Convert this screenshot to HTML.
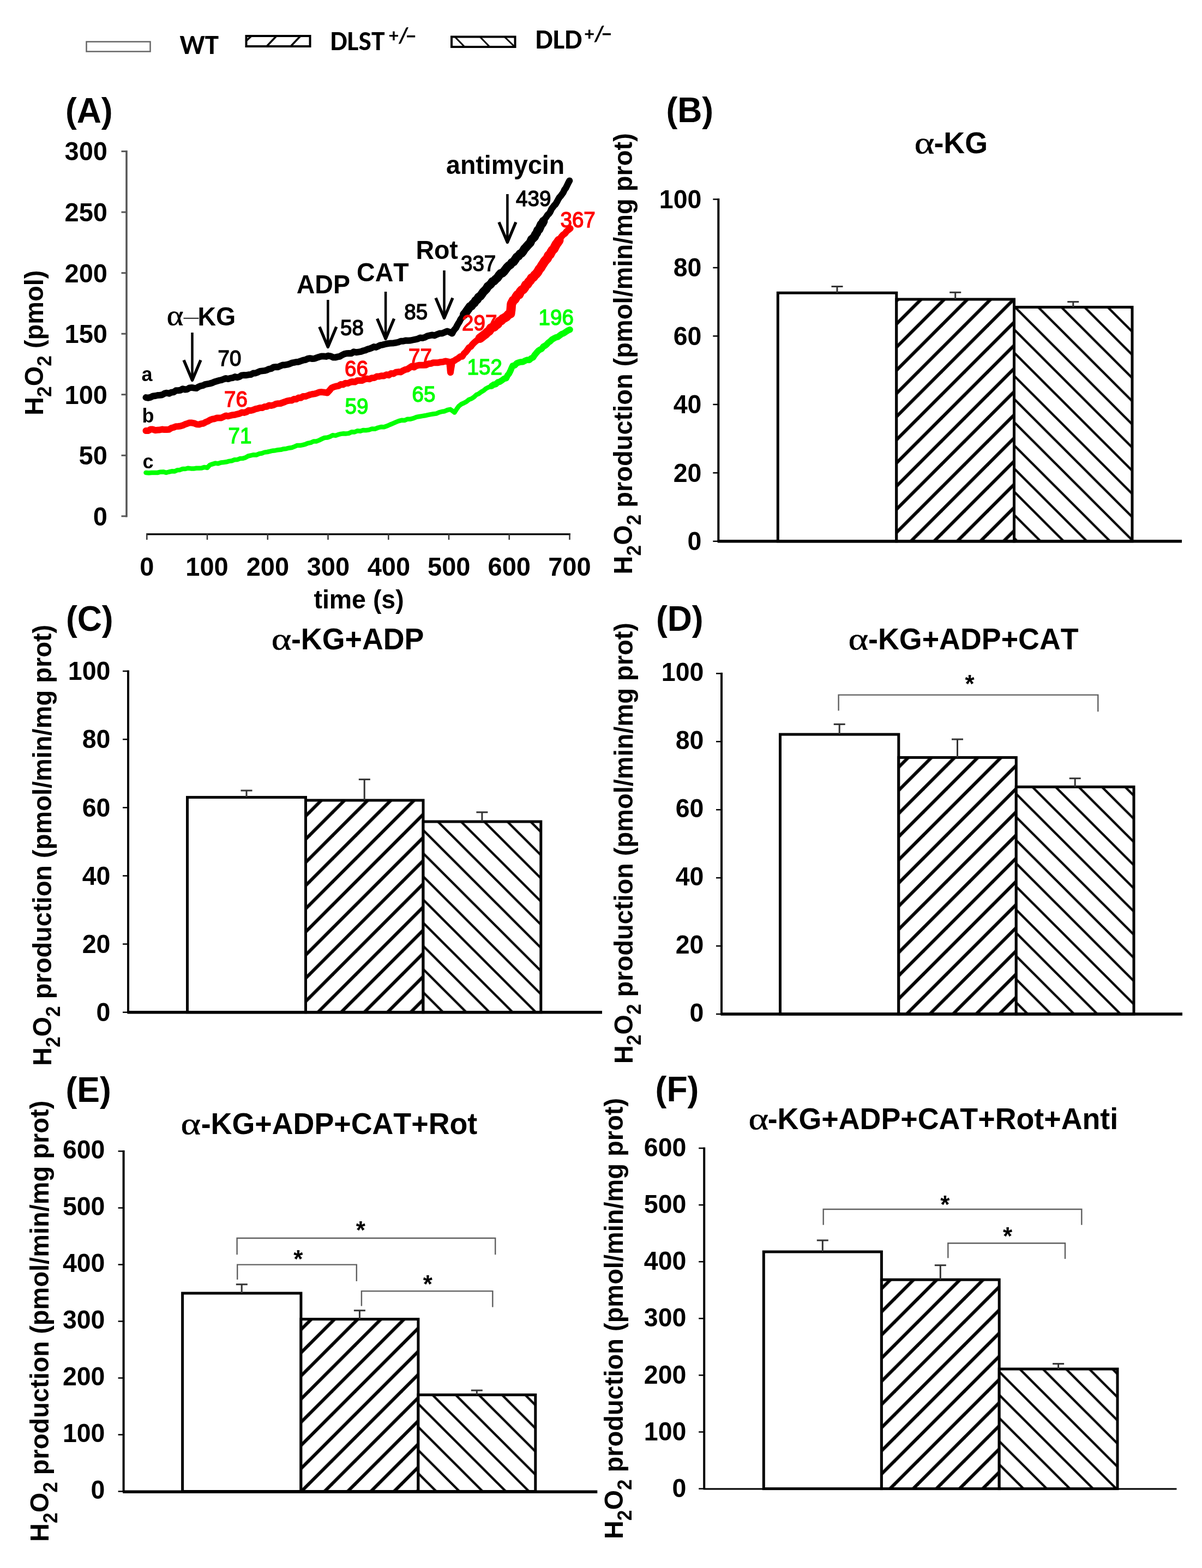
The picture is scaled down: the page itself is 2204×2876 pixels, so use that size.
<!DOCTYPE html>
<html><head><meta charset="utf-8"><title>Figure</title>
<style>html,body{margin:0;padding:0;background:#fff;}svg{display:block;}text{font-kerning:none;}</style>
</head><body>
<svg width="2204" height="2876" viewBox="0 0 2204 2876">
<rect width="2204" height="2876" fill="#fff"/>
<rect x="158.5" y="76.5" width="117" height="18" fill="#fff" stroke="#666" stroke-width="2.5"/>
<text x="329.5" y="98.5" font-size="51" font-weight="bold" text-anchor="start" fill="#000" font-family="Carlito, 'Liberation Sans', sans-serif" >WT</text>
<rect x="451.5" y="66" width="117" height="19" fill="#fff" stroke="#000" stroke-width="4"/>
<line x1="488.0" y1="86.0" x2="507.0" y2="66.0" stroke="#000" stroke-width="3.5" />
<line x1="532.0" y1="86.0" x2="551.0" y2="66.0" stroke="#000" stroke-width="3.5" />
<line x1="451.5" y1="75.0" x2="461.0" y2="66.0" stroke="#000" stroke-width="3.5" />
<text x="605.4" y="92.3" font-size="49.5" font-weight="bold" text-anchor="start" fill="#000" font-family="Carlito, 'Liberation Sans', sans-serif" >DLST</text>
<text x="713.2" y="77.3" font-size="35" font-weight="bold" text-anchor="start" fill="#000" font-family="Carlito, 'Liberation Sans', sans-serif" >+</text>
<text x="730.9" y="78.3" font-size="40.8" font-weight="bold" text-anchor="start" fill="#000" font-family="Carlito, 'Liberation Sans', sans-serif" >/</text>
<text x="743.9" y="78.5" font-size="39" font-weight="bold" text-anchor="start" fill="#000" font-family="Carlito, 'Liberation Sans', sans-serif" >−</text>
<rect x="828" y="67.5" width="116.5" height="18.5" fill="#fff" stroke="#000" stroke-width="4"/>
<line x1="834.0" y1="67.5" x2="852.0" y2="86.0" stroke="#000" stroke-width="3" />
<line x1="880.0" y1="67.5" x2="898.0" y2="86.0" stroke="#000" stroke-width="3" />
<line x1="925.0" y1="67.5" x2="943.0" y2="85.0" stroke="#000" stroke-width="3" />
<text x="981.6" y="89.0" font-size="51" font-weight="bold" text-anchor="start" fill="#000" font-family="Carlito, 'Liberation Sans', sans-serif" >DLD</text>
<text x="1072.1" y="74.2" font-size="35" font-weight="bold" text-anchor="start" fill="#000" font-family="Carlito, 'Liberation Sans', sans-serif" >+</text>
<text x="1089.8" y="75.2" font-size="40.8" font-weight="bold" text-anchor="start" fill="#000" font-family="Carlito, 'Liberation Sans', sans-serif" >/</text>
<text x="1102.8" y="75.4" font-size="39" font-weight="bold" text-anchor="start" fill="#000" font-family="Carlito, 'Liberation Sans', sans-serif" >−</text>
<text transform="translate(119.9,224.5) scale(1,1.04)" font-size="62.5" font-weight="bold" text-anchor="start" fill="#000" font-family="'Liberation Sans', Arial, sans-serif" >(A)</text>
<line x1="232.0" y1="276.0" x2="232.0" y2="948.5" stroke="#555" stroke-width="3.5" />
<line x1="222.5" y1="946.8" x2="232.0" y2="946.8" stroke="#555" stroke-width="3" />
<text transform="translate(170.8,963.6) scale(1,1.04)" font-size="47" font-weight="bold" text-anchor="start" fill="#000" font-family="'Liberation Sans', Arial, sans-serif" >0</text>
<line x1="222.5" y1="835.3" x2="232.0" y2="835.3" stroke="#555" stroke-width="3" />
<text transform="translate(144.6,852.1) scale(1,1.04)" font-size="47" font-weight="bold" text-anchor="start" fill="#000" font-family="'Liberation Sans', Arial, sans-serif" >50</text>
<line x1="222.5" y1="723.7" x2="232.0" y2="723.7" stroke="#555" stroke-width="3" />
<text transform="translate(118.5,740.6) scale(1,1.04)" font-size="47" font-weight="bold" text-anchor="start" fill="#000" font-family="'Liberation Sans', Arial, sans-serif" >100</text>
<line x1="222.5" y1="612.2" x2="232.0" y2="612.2" stroke="#555" stroke-width="3" />
<text transform="translate(118.5,629.0) scale(1,1.04)" font-size="47" font-weight="bold" text-anchor="start" fill="#000" font-family="'Liberation Sans', Arial, sans-serif" >150</text>
<line x1="222.5" y1="500.7" x2="232.0" y2="500.7" stroke="#555" stroke-width="3" />
<text transform="translate(118.5,517.5) scale(1,1.04)" font-size="47" font-weight="bold" text-anchor="start" fill="#000" font-family="'Liberation Sans', Arial, sans-serif" >200</text>
<line x1="222.5" y1="389.1" x2="232.0" y2="389.1" stroke="#555" stroke-width="3" />
<text transform="translate(118.5,406.0) scale(1,1.04)" font-size="47" font-weight="bold" text-anchor="start" fill="#000" font-family="'Liberation Sans', Arial, sans-serif" >250</text>
<line x1="222.5" y1="277.6" x2="232.0" y2="277.6" stroke="#555" stroke-width="3" />
<text transform="translate(118.5,294.4) scale(1,1.04)" font-size="47" font-weight="bold" text-anchor="start" fill="#000" font-family="'Liberation Sans', Arial, sans-serif" >300</text>
<line x1="268.3" y1="979.8" x2="1046.0" y2="979.8" stroke="#000" stroke-width="3.2" />
<line x1="269.3" y1="978.5" x2="269.3" y2="990.0" stroke="#333" stroke-width="2.5" />
<text transform="translate(256.3,1056.0) scale(1,1.04)" font-size="47" font-weight="bold" text-anchor="start" fill="#000" font-family="'Liberation Sans', Arial, sans-serif" >0</text>
<line x1="380.0" y1="978.5" x2="380.0" y2="990.0" stroke="#333" stroke-width="2.5" />
<text transform="translate(340.3,1056.0) scale(1,1.04)" font-size="47" font-weight="bold" text-anchor="start" fill="#000" font-family="'Liberation Sans', Arial, sans-serif" >100</text>
<line x1="490.8" y1="978.5" x2="490.8" y2="990.0" stroke="#333" stroke-width="2.5" />
<text transform="translate(451.7,1056.0) scale(1,1.04)" font-size="47" font-weight="bold" text-anchor="start" fill="#000" font-family="'Liberation Sans', Arial, sans-serif" >200</text>
<line x1="601.5" y1="978.5" x2="601.5" y2="990.0" stroke="#333" stroke-width="2.5" />
<text transform="translate(562.7,1056.0) scale(1,1.04)" font-size="47" font-weight="bold" text-anchor="start" fill="#000" font-family="'Liberation Sans', Arial, sans-serif" >300</text>
<line x1="712.3" y1="978.5" x2="712.3" y2="990.0" stroke="#333" stroke-width="2.5" />
<text transform="translate(673.7,1056.0) scale(1,1.04)" font-size="47" font-weight="bold" text-anchor="start" fill="#000" font-family="'Liberation Sans', Arial, sans-serif" >400</text>
<line x1="823.0" y1="978.5" x2="823.0" y2="990.0" stroke="#333" stroke-width="2.5" />
<text transform="translate(784.0,1056.0) scale(1,1.04)" font-size="47" font-weight="bold" text-anchor="start" fill="#000" font-family="'Liberation Sans', Arial, sans-serif" >500</text>
<line x1="933.7" y1="978.5" x2="933.7" y2="990.0" stroke="#333" stroke-width="2.5" />
<text transform="translate(894.6,1056.0) scale(1,1.04)" font-size="47" font-weight="bold" text-anchor="start" fill="#000" font-family="'Liberation Sans', Arial, sans-serif" >600</text>
<line x1="1044.5" y1="978.5" x2="1044.5" y2="990.0" stroke="#333" stroke-width="2.5" />
<text transform="translate(1005.2,1056.0) scale(1,1.04)" font-size="47" font-weight="bold" text-anchor="start" fill="#000" font-family="'Liberation Sans', Arial, sans-serif" >700</text>
<text transform="translate(575.4,1116.0) scale(1,1.04)" font-size="46.5" font-weight="bold" text-anchor="start" fill="#000" font-family="'Liberation Sans', Arial, sans-serif" >time (s)</text>
<g transform="translate(78.5,761.9) rotate(-90) scale(1,1.04)">
<text x="0" y="0" font-size="47" font-weight="bold" font-family="'Liberation Sans', Arial, sans-serif">H<tspan font-size="35.3" dy="15">2</tspan><tspan dy="-15">O</tspan><tspan font-size="35.3" dy="15">2</tspan><tspan dy="-15"> (pmol)</tspan></text>
</g>
<polyline points="267.5,867.0 272.8,867.4 278.1,866.9 283.4,867.1 288.8,867.0 294.1,865.7 299.4,865.4 304.7,866.9 310.0,865.5 315.0,864.3 320.0,864.6 325.0,862.3 330.0,861.9 335.0,860.0 340.0,860.0 345.0,858.7 350.0,859.4 355.0,859.6 360.0,858.7 365.0,858.8 370.0,858.4 375.0,856.9 380.0,858.0 385.0,852.7 390.0,851.1 395.0,849.6 400.0,850.2 405.0,848.4 410.0,847.9 415.0,847.3 420.0,845.9 425.0,845.3 430.0,843.3 435.0,843.1 440.0,841.1 445.0,840.8 450.0,839.4 455.0,836.5 460.0,835.3 465.0,834.2 470.0,834.5 475.0,832.3 480.0,831.5 485.0,829.6 490.0,829.0 495.0,827.8 500.0,826.7 505.0,826.2 510.0,825.2 515.0,824.8 520.0,823.4 525.0,822.9 530.0,821.7 535.0,821.0 540.0,819.1 545.0,816.9 550.0,817.1 555.0,816.1 560.0,814.8 565.0,812.8 570.0,811.8 575.0,809.5 580.0,809.5 585.0,807.6 590.0,805.2 595.0,802.9 600.0,802.6 605.0,801.0 610.0,798.3 615.0,798.9 620.0,797.2 625.0,795.9 630.0,795.3 635.0,795.4 640.0,794.7 645.2,792.2 650.3,792.4 655.5,790.3 660.7,790.7 665.8,789.0 671.0,789.2 676.5,788.5 682.1,786.6 687.6,786.7 693.1,784.5 698.6,783.1 704.2,783.3 709.7,781.3 714.8,779.0 720.0,776.8 725.1,774.6 730.6,772.4 736.2,770.8 741.7,771.1 747.2,768.7 752.7,768.7 758.3,767.2 763.8,764.9 769.0,764.0 774.1,763.1 779.3,762.3 784.5,761.2 789.6,760.1 794.8,759.2 800.0,758.6 805.1,756.4 810.3,755.0 815.5,754.2 820.6,752.0 825.8,750.8 833.5,756.5 837.4,750.3 841.2,745.1 845.9,741.2 850.5,739.3 855.2,736.8 859.8,732.9 864.5,731.3 868.9,728.4 873.3,724.2 877.7,722.3 882.2,719.0 886.6,716.4 891.0,712.7 895.4,710.4 901.4,709.1 905.9,705.1 910.3,702.7 914.8,701.5 919.3,699.5 923.7,695.6 928.2,693.5 932.0,687.9 935.7,681.4 937.9,676.2 940.0,670.7 945.0,668.3 950.0,666.3 955.0,663.2 959.8,662.0 964.6,661.4 969.5,658.6 974.3,658.3 978.6,654.0 982.8,648.6 987.1,643.7 991.4,641.3 995.7,636.5 1000.0,632.8 1004.3,629.6 1008.6,626.5 1014.0,622.1 1019.3,619.3 1024.7,616.1 1030.0,613.9 1035.0,610.2 1040.0,608.2 1045.0,604.6" fill="none" stroke="#00ff00" stroke-width="8.5" stroke-linejoin="round" stroke-linecap="round"/>
<polyline points="901.4,708.1 905.2,705.5 909.1,704.7 912.9,701.1 916.7,700.1 920.5,697.5 924.4,694.6 928.2,693.6 930.7,688.5 933.2,685.6 935.7,680.7 937.9,675.4 940.0,670.9 943.8,670.1 947.5,666.4 951.2,664.8 955.0,663.9 958.9,663.7 962.7,661.6 966.6,660.1 970.4,660.5 974.3,657.0 977.5,655.7 980.7,650.7 983.9,646.9 987.1,643.3 990.2,641.2 993.2,639.9 996.3,635.7 999.4,634.1 1002.5,631.7 1005.5,628.4 1008.6,626.2 1012.2,622.8 1015.7,620.7 1019.3,618.9 1022.9,618.0 1026.4,615.2 1030.0,612.7 1033.8,611.3 1037.5,608.8 1041.2,606.2 1045.0,604.6" fill="none" stroke="#00ff00" stroke-width="11.5" stroke-linejoin="round" stroke-linecap="round"/>
<polyline points="267.5,790.1 271.8,789.9 276.0,787.6 280.2,787.6 284.5,789.2 288.8,788.8 293.0,788.5 297.2,787.5 301.5,788.1 305.8,787.9 310.0,787.7 314.2,785.0 318.3,784.0 322.5,782.2 326.7,782.0 330.8,781.5 335.0,780.3 339.2,778.3 343.3,777.0 347.5,775.4 351.9,775.6 356.2,776.4 360.6,778.2 365.0,778.6 369.0,777.1 373.0,776.7 377.0,774.3 381.0,772.7 385.0,770.4 389.2,768.7 393.3,768.2 397.5,766.6 401.7,766.4 405.8,766.4 410.0,764.4 414.2,762.4 418.3,763.3 422.5,762.2 426.7,761.2 430.8,760.8 435.0,759.6 439.2,758.6 443.3,756.5 447.5,756.9 451.7,755.8 455.8,752.8 460.0,753.1 464.2,751.9 468.3,750.2 472.5,749.3 476.7,748.1 480.8,748.1 485.0,746.0 489.2,745.8 493.3,743.6 497.5,743.9 501.7,743.0 505.8,740.9 510.0,740.2 514.2,740.0 518.3,738.5 522.5,737.0 526.7,735.3 530.8,734.6 535.0,734.5 539.2,731.9 543.3,732.3 547.5,729.4 551.7,729.7 555.8,726.9 560.0,727.1 564.2,725.5 568.3,724.0 572.5,723.0 576.7,722.4 580.8,721.2 585.0,719.5 590.0,719.1 595.0,719.7 600.0,720.5 604.0,716.3 608.0,711.5 612.0,709.8 616.3,708.5 620.6,707.9 624.9,705.1 629.2,705.4 633.5,702.7 637.8,703.1 642.1,701.1 646.4,699.9 650.8,700.6 655.3,697.9 659.7,698.0 664.1,697.9 668.5,695.6 673.0,694.6 677.4,695.3 681.8,693.3 686.3,693.1 690.7,690.6 695.1,690.5 699.5,689.2 704.0,689.5 708.4,687.2 712.8,688.2 717.2,684.9 721.6,685.5 726.1,682.7 730.5,682.1 734.9,682.4 739.3,679.7 743.2,677.9 747.0,677.2 750.9,674.6 754.8,671.9 759.2,673.5 763.7,670.8 768.1,669.8 772.5,669.8 776.9,669.8 781.4,669.4 785.8,667.2 790.2,666.8 794.6,665.2 799.0,665.3 803.5,665.2 807.9,664.2 812.3,663.8 816.7,662.5 824.0,663.9 824.4,667.6 824.8,671.2 825.2,674.7 825.6,679.9 826.0,683.2 826.8,677.7 827.5,673.7 828.2,669.8 829.0,663.1 832.7,661.9 836.5,659.2 840.2,657.2 844.0,654.0 847.7,653.7 850.8,648.5 853.9,645.9 856.9,642.0 860.0,637.5 863.2,635.8 866.3,631.7 869.5,628.4 872.6,625.7 875.6,623.4 878.7,620.6 881.7,619.2 884.8,616.3 887.8,614.8 890.9,612.0 893.9,609.5 897.0,605.1 900.1,603.0 903.2,600.1 906.3,598.4 909.4,595.9 912.6,593.8 915.7,591.1 918.8,587.5 921.9,585.3 925.0,583.1 928.7,579.5 932.3,577.2 936.0,575.8 936.4,571.1 936.8,568.5 937.2,563.4 937.6,559.0 938.0,555.2 941.0,551.7 944.0,547.9 946.6,545.5 949.1,542.2 951.7,538.6 954.2,536.2 956.8,532.0 959.3,530.5 961.9,527.5 964.4,523.7 967.0,519.8 969.7,516.8 972.4,513.8 975.1,509.4 977.8,507.1 980.6,504.2 983.3,500.2 986.0,496.8 988.7,495.3 991.4,491.1 993.8,487.9 996.2,485.3 998.6,481.0 1001.0,476.6 1003.5,474.7 1005.9,469.7 1008.3,465.3 1010.7,463.3 1013.0,458.4 1015.4,455.3 1017.7,453.0 1020.0,449.0 1022.3,443.9 1024.7,441.3 1027.0,437.7 1029.3,434.3 1032.6,430.5 1035.9,428.4 1039.1,424.1 1042.4,421.5 1045.7,419.0" fill="none" stroke="#ff0000" stroke-width="12" stroke-linejoin="round" stroke-linecap="round"/>
<polyline points="880.0,620.4 883.4,617.9 886.8,615.2 890.2,612.7 893.6,609.3 897.0,607.0 900.1,601.8 903.2,600.6 906.3,599.5 909.4,596.1 912.6,594.3 915.7,589.4 918.8,588.0 921.9,584.8 925.0,583.1 928.7,580.9 932.3,576.9 936.0,575.2 936.4,571.3 936.8,569.2 937.2,564.8 937.6,559.0 938.0,556.9 941.0,551.2 944.0,549.0 946.6,544.3 949.1,540.7 951.7,540.2 954.2,535.0 956.8,531.9 959.3,531.0 961.9,527.5 964.4,522.5 967.0,521.4 969.7,516.9 972.4,514.2 975.1,509.6 977.8,508.6 980.6,504.7 983.3,502.3 986.0,498.9 988.7,494.0 991.4,491.0 993.8,486.8 996.2,483.2 998.6,479.4 1001.0,476.6 1003.5,473.9 1005.9,468.5 1008.3,467.0 1010.7,462.4 1013.1,458.7 1015.5,456.6 1017.9,451.9 1020.2,447.7 1022.6,444.6 1025.0,441.0" fill="none" stroke="#ff0000" stroke-width="17" stroke-linejoin="round" stroke-linecap="round"/>
<polyline points="267.5,729.1 271.9,729.8 276.2,728.6 280.6,726.4 285.0,726.0 289.2,725.0 293.3,724.7 297.5,724.2 301.7,721.7 305.8,720.7 310.0,721.8 314.2,719.7 318.3,719.3 322.5,716.3 326.7,716.2 330.8,715.7 335.0,713.3 339.2,714.6 343.3,714.0 347.5,711.4 351.7,710.9 355.8,711.6 360.0,712.1 364.0,709.5 368.0,707.9 372.0,707.2 376.0,705.1 380.0,704.3 384.3,703.6 388.6,702.4 392.9,700.5 397.1,699.2 401.4,697.9 405.7,697.2 410.0,695.5 414.2,694.0 418.3,695.1 422.5,693.6 426.7,693.0 430.8,691.1 435.0,692.2 439.2,691.0 443.3,688.4 447.5,688.1 451.7,688.2 455.8,687.3 460.0,687.0 464.2,684.6 468.3,684.5 472.5,682.9 476.7,680.9 480.8,680.4 485.0,679.9 489.2,678.7 493.3,676.8 497.5,676.0 501.7,673.5 505.8,673.0 510.0,673.2 514.2,671.2 518.3,669.5 522.5,669.4 526.7,668.7 530.8,667.5 535.0,665.7 539.2,664.9 543.3,664.0 547.5,663.7 551.7,662.1 555.8,660.7 560.0,660.0 564.2,658.0 568.3,657.2 572.5,658.0 576.7,657.8 580.8,656.1 585.0,654.7 589.2,653.5 593.5,653.5 597.8,653.9 602.0,652.6 606.5,653.4 611.0,655.5 615.5,655.4 619.4,654.4 623.2,653.8 627.1,651.3 631.0,649.4 635.4,648.2 639.8,648.0 644.2,648.2 648.7,645.2 653.1,646.3 657.5,645.6 661.9,644.9 665.8,643.4 669.8,642.5 673.7,640.6 677.7,639.6 681.6,638.1 685.6,636.1 689.5,636.9 693.5,635.1 697.4,633.1 701.4,632.6 705.3,631.5 709.5,630.5 713.8,629.8 718.0,629.6 722.3,629.2 726.5,628.5 730.8,627.5 735.0,625.8 739.3,625.7 743.7,624.6 748.2,624.7 752.6,624.5 757.0,623.5 761.4,622.6 765.9,621.7 770.3,619.5 774.7,620.0 779.1,618.7 783.5,616.4 788.0,615.4 792.4,614.5 796.8,615.4 801.2,613.3 805.9,611.6 810.6,611.5 815.3,609.5 820.0,607.5 824.5,609.2 829.0,611.6 831.3,607.2 833.7,604.0 836.0,601.5 838.1,597.3 840.3,593.4 842.4,590.2 844.6,585.6 846.7,582.9 848.9,579.4 851.0,575.3 853.7,572.0 856.3,570.9 859.0,566.9 861.7,563.1 864.3,561.0 867.0,558.5 869.7,553.5 872.3,550.5 875.0,547.8 877.8,545.9 880.6,541.4 883.3,539.6 886.1,536.3 888.9,532.8 891.7,528.9 894.4,527.5 897.2,523.9 900.0,520.0 903.0,516.5 906.0,514.6 909.0,511.2 912.0,508.7 915.0,505.3 918.0,503.2 921.0,498.9 924.0,496.6 927.0,495.4 930.0,492.3 932.9,487.8 935.9,485.9 938.8,481.4 941.7,479.8 944.7,476.2 947.6,472.2 950.5,468.6 953.5,464.9 956.4,463.8 959.0,458.6 961.6,457.3 964.3,454.5 966.9,450.4 969.5,446.2 972.1,444.7 974.8,441.8 977.4,438.0 980.0,434.3 982.0,430.4 984.1,426.8 986.1,422.9 988.2,420.4 990.2,416.3 992.3,412.1 994.4,408.3 996.4,406.1 998.9,401.6 1001.4,398.5 1003.9,394.5 1006.4,392.2 1008.9,388.7 1011.4,383.0 1013.9,379.9 1016.4,376.6 1018.7,374.6 1021.0,370.6 1023.4,366.0 1025.7,362.1 1028.0,359.7 1030.3,356.5 1032.7,353.2 1035.0,348.2 1037.3,345.2 1039.7,340.4 1042.0,335.7 1044.3,331.4" fill="none" stroke="#000" stroke-width="12" stroke-linejoin="round" stroke-linecap="round"/>
<polyline points="851.0,576.9 853.7,573.9 856.3,569.9 859.0,566.2 861.7,562.3 864.3,561.3 867.0,557.6 869.7,555.5 872.3,551.3 875.0,549.4 877.8,544.7 880.6,543.2 883.3,539.8 886.1,535.6 888.9,532.8 891.7,530.1 894.4,525.4 897.2,523.3 900.0,520.9 903.0,516.4 906.0,515.2 909.0,512.0 912.0,509.6 915.0,505.2 918.0,501.6 921.0,500.9 924.0,498.0 927.0,494.1 930.0,490.2 932.9,487.3 935.9,485.5 938.8,481.3 941.7,480.1 944.7,475.8 947.6,471.5 950.5,469.7 953.5,465.6 956.4,464.2 959.0,461.0 961.6,456.6 964.3,453.8 966.9,450.8 969.5,447.9 972.1,445.3 974.8,439.2 977.4,437.1 980.0,434.6 982.0,430.1 984.1,427.4 986.1,422.3 988.2,421.1 990.2,416.5 992.3,411.7 994.4,409.8 996.4,405.7" fill="none" stroke="#000" stroke-width="16" stroke-linejoin="round" stroke-linecap="round"/>
<line x1="352.5" y1="610.0" x2="352.5" y2="695.5" stroke="#000" stroke-width="4.5" />
<polyline points="337.0,660.5 352.5,697.5 368.0,660.5" fill="none" stroke="#000" stroke-width="5.4" stroke-linejoin="round"/>
<line x1="601.3" y1="550.0" x2="601.3" y2="634.5" stroke="#000" stroke-width="4.5" />
<polyline points="585.8,599.5 601.3,636.5 616.8,599.5" fill="none" stroke="#000" stroke-width="5.4" stroke-linejoin="round"/>
<line x1="707.1" y1="535.0" x2="707.1" y2="619.5" stroke="#000" stroke-width="4.5" />
<polyline points="691.6,584.5 707.1,621.5 722.6,584.5" fill="none" stroke="#000" stroke-width="5.4" stroke-linejoin="round"/>
<line x1="814.5" y1="496.0" x2="814.5" y2="581.5" stroke="#000" stroke-width="4.5" />
<polyline points="799.0,546.5 814.5,583.5 830.0,546.5" fill="none" stroke="#000" stroke-width="5.4" stroke-linejoin="round"/>
<line x1="930.4" y1="356.0" x2="930.4" y2="442.5" stroke="#000" stroke-width="4.5" />
<polyline points="914.9,407.5 930.4,444.5 945.9,407.5" fill="none" stroke="#000" stroke-width="5.4" stroke-linejoin="round"/>
<text transform="translate(305.8,596.3) scale(1.22,1.08)" x="0" y="0" font-size="48" font-family="'Liberation Serif', 'Times New Roman', serif" stroke="#000" stroke-width="0.6">α</text>
<line x1="336.5" y1="583.8" x2="364.5" y2="583.8" stroke="#333" stroke-width="2.2" />
<text transform="translate(362.4,596.7) scale(1,1.04)" font-size="46.5" font-weight="bold" text-anchor="start" fill="#000" font-family="'Liberation Sans', Arial, sans-serif" >KG</text>
<text transform="translate(543.8,537.5) scale(1,1.04)" font-size="46.5" font-weight="bold" text-anchor="start" fill="#000" font-family="'Liberation Sans', Arial, sans-serif" >ADP</text>
<text transform="translate(654.1,515.5) scale(1,1.04)" font-size="46.5" font-weight="bold" text-anchor="start" fill="#000" font-family="'Liberation Sans', Arial, sans-serif" >CAT</text>
<text transform="translate(762.4,474.5) scale(1,1.04)" font-size="46.5" font-weight="bold" text-anchor="start" fill="#000" font-family="'Liberation Sans', Arial, sans-serif" >Rot</text>
<text transform="translate(818.1,318.5) scale(1,1.04)" font-size="46.5" font-weight="bold" text-anchor="start" fill="#000" font-family="'Liberation Sans', Arial, sans-serif" >antimycin</text>
<text transform="translate(259.4,699.0) scale(1,1.04)" font-size="36" font-weight="bold" text-anchor="start" fill="#000" font-family="'Liberation Sans', Arial, sans-serif" >a</text>
<text transform="translate(260.6,775.0) scale(1,1.04)" font-size="36" font-weight="bold" text-anchor="start" fill="#000" font-family="'Liberation Sans', Arial, sans-serif" >b</text>
<text transform="translate(261.6,858.5) scale(1,1.04)" font-size="36" font-weight="bold" text-anchor="start" fill="#000" font-family="'Liberation Sans', Arial, sans-serif" >c</text>
<text transform="translate(399.5,671.0) scale(1,1.04)" font-size="38.5" font-weight="normal" text-anchor="start" fill="#000" font-family="'Liberation Sans', Arial, sans-serif"  stroke="#000" stroke-width="1.4">70</text>
<text transform="translate(624.0,614.5) scale(1,1.04)" font-size="38.5" font-weight="normal" text-anchor="start" fill="#000" font-family="'Liberation Sans', Arial, sans-serif"  stroke="#000" stroke-width="1.4">58</text>
<text transform="translate(741.3,586.0) scale(1,1.04)" font-size="38.5" font-weight="normal" text-anchor="start" fill="#000" font-family="'Liberation Sans', Arial, sans-serif"  stroke="#000" stroke-width="1.4">85</text>
<text transform="translate(845.0,497.0) scale(1,1.04)" font-size="38.5" font-weight="normal" text-anchor="start" fill="#000" font-family="'Liberation Sans', Arial, sans-serif"  stroke="#000" stroke-width="1.4">337</text>
<text transform="translate(946.1,378.0) scale(1,1.04)" font-size="38.5" font-weight="normal" text-anchor="start" fill="#000" font-family="'Liberation Sans', Arial, sans-serif"  stroke="#000" stroke-width="1.4">439</text>
<text transform="translate(411.0,746.0) scale(1,1.04)" font-size="38.5" font-weight="normal" text-anchor="start" fill="#ff0000" font-family="'Liberation Sans', Arial, sans-serif"  stroke="#ff0000" stroke-width="1.4">76</text>
<text transform="translate(632.0,690.0) scale(1,1.04)" font-size="38.5" font-weight="normal" text-anchor="start" fill="#ff0000" font-family="'Liberation Sans', Arial, sans-serif"  stroke="#ff0000" stroke-width="1.4">66</text>
<text transform="translate(749.0,667.5) scale(1,1.04)" font-size="38.5" font-weight="normal" text-anchor="start" fill="#ff0000" font-family="'Liberation Sans', Arial, sans-serif"  stroke="#ff0000" stroke-width="1.4">77</text>
<text transform="translate(847.1,606.0) scale(1,1.04)" font-size="38.5" font-weight="normal" text-anchor="start" fill="#ff0000" font-family="'Liberation Sans', Arial, sans-serif"  stroke="#ff0000" stroke-width="1.4">297</text>
<text transform="translate(1027.5,416.5) scale(1,1.04)" font-size="38.5" font-weight="normal" text-anchor="start" fill="#ff0000" font-family="'Liberation Sans', Arial, sans-serif"  stroke="#ff0000" stroke-width="1.4">367</text>
<text transform="translate(418.5,812.5) scale(1,1.04)" font-size="38.5" font-weight="normal" text-anchor="start" fill="#00ff00" font-family="'Liberation Sans', Arial, sans-serif"  stroke="#00ff00" stroke-width="1.4">71</text>
<text transform="translate(632.5,759.0) scale(1,1.04)" font-size="38.5" font-weight="normal" text-anchor="start" fill="#00ff00" font-family="'Liberation Sans', Arial, sans-serif"  stroke="#00ff00" stroke-width="1.4">59</text>
<text transform="translate(755.5,736.5) scale(1,1.04)" font-size="38.5" font-weight="normal" text-anchor="start" fill="#00ff00" font-family="'Liberation Sans', Arial, sans-serif"  stroke="#00ff00" stroke-width="1.4">65</text>
<text transform="translate(856.6,687.0) scale(1,1.04)" font-size="38.5" font-weight="normal" text-anchor="start" fill="#00ff00" font-family="'Liberation Sans', Arial, sans-serif"  stroke="#00ff00" stroke-width="1.4">152</text>
<text transform="translate(987.6,595.5) scale(1,1.04)" font-size="38.5" font-weight="normal" text-anchor="start" fill="#00ff00" font-family="'Liberation Sans', Arial, sans-serif"  stroke="#00ff00" stroke-width="1.4">196</text>
<defs>
<pattern id="hA0" patternUnits="userSpaceOnUse" width="42.5" height="42.5" x="28.00" y="0"><rect width="42.5" height="42.5" fill="#fff"/><line x1="-42.5" y1="85.0" x2="85.0" y2="-42.5" stroke="#000" stroke-width="6.0"/><line x1="-42.5" y1="42.5" x2="42.5" y2="-42.5" stroke="#000" stroke-width="6.0"/><line x1="0" y1="85.0" x2="85.0" y2="0" stroke="#000" stroke-width="6.0"/></pattern>
<pattern id="hB0" patternUnits="userSpaceOnUse" width="42.5" height="42.5" x="22.70" y="0"><rect width="42.5" height="42.5" fill="#fff"/><line x1="-42.5" y1="-42.5" x2="85.0" y2="85.0" stroke="#000" stroke-width="4.3"/><line x1="0" y1="-42.5" x2="85.0" y2="42.5" stroke="#000" stroke-width="4.3"/><line x1="-42.5" y1="0" x2="42.5" y2="85.0" stroke="#000" stroke-width="4.3"/></pattern>
</defs>
<text transform="translate(1221.4,224.0) scale(1,1.04)" font-size="62.5" font-weight="bold" text-anchor="start" fill="#000" font-family="'Liberation Sans', Arial, sans-serif" >(B)</text>
<text transform="translate(1676.8,280.8) scale(1.3,1.08)" x="0" y="0" font-size="53.8" font-family="'Liberation Serif', 'Times New Roman', serif" stroke="#000" stroke-width="0.6">α</text>
<text transform="translate(1712.4,280.8) scale(1,1.04)" font-size="53.8" font-weight="bold" text-anchor="start" fill="#000" font-family="'Liberation Sans', Arial, sans-serif" >-KG</text>
<g transform="translate(1159.0,1053.4) rotate(-90) scale(1,1.04)">
<text x="0" y="0" font-size="47" font-weight="bold" font-family="'Liberation Sans', Arial, sans-serif">H<tspan font-size="35.2" dy="15">2</tspan><tspan dy="-15">O</tspan><tspan font-size="35.2" dy="15">2</tspan><tspan dy="-15"> production (pmol/min/mg prot)</tspan></text>
</g>
<line x1="1307.3" y1="992.8" x2="1317.3" y2="992.8" stroke="#000" stroke-width="2.5" />
<text transform="translate(1260.5,1009.1) scale(1,1.04)" font-size="46.5" font-weight="bold" text-anchor="start" fill="#000" font-family="'Liberation Sans', Arial, sans-serif" >0</text>
<line x1="1307.3" y1="867.3" x2="1317.3" y2="867.3" stroke="#000" stroke-width="2.5" />
<text transform="translate(1234.7,883.7) scale(1,1.04)" font-size="46.5" font-weight="bold" text-anchor="start" fill="#000" font-family="'Liberation Sans', Arial, sans-serif" >20</text>
<line x1="1307.3" y1="741.9" x2="1317.3" y2="741.9" stroke="#000" stroke-width="2.5" />
<text transform="translate(1234.7,758.2) scale(1,1.04)" font-size="46.5" font-weight="bold" text-anchor="start" fill="#000" font-family="'Liberation Sans', Arial, sans-serif" >40</text>
<line x1="1307.3" y1="616.4" x2="1317.3" y2="616.4" stroke="#000" stroke-width="2.5" />
<text transform="translate(1234.7,632.8) scale(1,1.04)" font-size="46.5" font-weight="bold" text-anchor="start" fill="#000" font-family="'Liberation Sans', Arial, sans-serif" >60</text>
<line x1="1307.3" y1="491.0" x2="1317.3" y2="491.0" stroke="#000" stroke-width="2.5" />
<text transform="translate(1234.7,507.3) scale(1,1.04)" font-size="46.5" font-weight="bold" text-anchor="start" fill="#000" font-family="'Liberation Sans', Arial, sans-serif" >80</text>
<line x1="1307.3" y1="365.5" x2="1317.3" y2="365.5" stroke="#000" stroke-width="2.5" />
<text transform="translate(1208.8,381.8) scale(1,1.04)" font-size="46.5" font-weight="bold" text-anchor="start" fill="#000" font-family="'Liberation Sans', Arial, sans-serif" >100</text>
<rect x="1426.3" y="537.2" width="217.5" height="455.6" fill="#fff" stroke="#000" stroke-width="5.0"/>
<rect x="1643.8" y="549.0" width="215.7" height="443.8" fill="url(#hA0)" stroke="#000" stroke-width="5.0"/>
<rect x="1859.5" y="563.4" width="216.5" height="429.4" fill="url(#hB0)" stroke="#000" stroke-width="5.0"/>
<line x1="1535.0" y1="537.2" x2="1535.0" y2="525.5" stroke="#333" stroke-width="3" />
<line x1="1524.5" y1="525.5" x2="1545.5" y2="525.5" stroke="#333" stroke-width="3" />
<line x1="1751.7" y1="549.0" x2="1751.7" y2="536.3" stroke="#333" stroke-width="3" />
<line x1="1741.2" y1="536.3" x2="1762.2" y2="536.3" stroke="#333" stroke-width="3" />
<line x1="1967.8" y1="563.4" x2="1967.8" y2="553.6" stroke="#333" stroke-width="3" />
<line x1="1957.2" y1="553.6" x2="1978.2" y2="553.6" stroke="#333" stroke-width="3" />
<line x1="1317.3" y1="364.0" x2="1317.3" y2="994.3" stroke="#000" stroke-width="4" />
<line x1="1315.8" y1="992.8" x2="2167.0" y2="992.8" stroke="#000" stroke-width="5.6" />
<defs>
<pattern id="hA1" patternUnits="userSpaceOnUse" width="42.5" height="42.5" x="17.20" y="0"><rect width="42.5" height="42.5" fill="#fff"/><line x1="-42.5" y1="85.0" x2="85.0" y2="-42.5" stroke="#000" stroke-width="6.0"/><line x1="-42.5" y1="42.5" x2="42.5" y2="-42.5" stroke="#000" stroke-width="6.0"/><line x1="0" y1="85.0" x2="85.0" y2="0" stroke="#000" stroke-width="6.0"/></pattern>
<pattern id="hB1" patternUnits="userSpaceOnUse" width="42.5" height="42.5" x="18.40" y="0"><rect width="42.5" height="42.5" fill="#fff"/><line x1="-42.5" y1="-42.5" x2="85.0" y2="85.0" stroke="#000" stroke-width="4.3"/><line x1="0" y1="-42.5" x2="85.0" y2="42.5" stroke="#000" stroke-width="4.3"/><line x1="-42.5" y1="0" x2="42.5" y2="85.0" stroke="#000" stroke-width="4.3"/></pattern>
</defs>
<text transform="translate(120.9,1157.3) scale(1,1.04)" font-size="62.5" font-weight="bold" text-anchor="start" fill="#000" font-family="'Liberation Sans', Arial, sans-serif" >(C)</text>
<text transform="translate(497.8,1191.0) scale(1.3,1.08)" x="0" y="0" font-size="53.8" font-family="'Liberation Serif', 'Times New Roman', serif" stroke="#000" stroke-width="0.6">α</text>
<text transform="translate(533.9,1191.0) scale(1,1.04)" font-size="53.8" font-weight="bold" text-anchor="start" fill="#000" font-family="'Liberation Sans', Arial, sans-serif" >-KG+ADP</text>
<g transform="translate(94.0,1955.0) rotate(-90) scale(1,1.04)">
<text x="0" y="0" font-size="47" font-weight="bold" font-family="'Liberation Sans', Arial, sans-serif">H<tspan font-size="35.2" dy="15">2</tspan><tspan dy="-15">O</tspan><tspan font-size="35.2" dy="15">2</tspan><tspan dy="-15"> production (pmol/min/mg prot)</tspan></text>
</g>
<line x1="225.0" y1="1856.7" x2="235.0" y2="1856.7" stroke="#000" stroke-width="2.5" />
<text transform="translate(176.5,1872.9) scale(1,1.04)" font-size="46.5" font-weight="bold" text-anchor="start" fill="#000" font-family="'Liberation Sans', Arial, sans-serif" >0</text>
<line x1="225.0" y1="1731.6" x2="235.0" y2="1731.6" stroke="#000" stroke-width="2.5" />
<text transform="translate(150.7,1747.8) scale(1,1.04)" font-size="46.5" font-weight="bold" text-anchor="start" fill="#000" font-family="'Liberation Sans', Arial, sans-serif" >20</text>
<line x1="225.0" y1="1606.4" x2="235.0" y2="1606.4" stroke="#000" stroke-width="2.5" />
<text transform="translate(150.7,1622.7) scale(1,1.04)" font-size="46.5" font-weight="bold" text-anchor="start" fill="#000" font-family="'Liberation Sans', Arial, sans-serif" >40</text>
<line x1="225.0" y1="1481.3" x2="235.0" y2="1481.3" stroke="#000" stroke-width="2.5" />
<text transform="translate(150.7,1497.5) scale(1,1.04)" font-size="46.5" font-weight="bold" text-anchor="start" fill="#000" font-family="'Liberation Sans', Arial, sans-serif" >60</text>
<line x1="225.0" y1="1356.1" x2="235.0" y2="1356.1" stroke="#000" stroke-width="2.5" />
<text transform="translate(150.7,1372.4) scale(1,1.04)" font-size="46.5" font-weight="bold" text-anchor="start" fill="#000" font-family="'Liberation Sans', Arial, sans-serif" >80</text>
<line x1="225.0" y1="1231.0" x2="235.0" y2="1231.0" stroke="#000" stroke-width="2.5" />
<text transform="translate(124.8,1247.2) scale(1,1.04)" font-size="46.5" font-weight="bold" text-anchor="start" fill="#000" font-family="'Liberation Sans', Arial, sans-serif" >100</text>
<rect x="343.5" y="1462.4" width="217.0" height="394.3" fill="#fff" stroke="#000" stroke-width="5.0"/>
<rect x="560.5" y="1467.9" width="215.5" height="388.8" fill="url(#hA1)" stroke="#000" stroke-width="5.0"/>
<rect x="776.0" y="1507.0" width="215.8" height="349.7" fill="url(#hB1)" stroke="#000" stroke-width="5.0"/>
<line x1="452.0" y1="1462.4" x2="452.0" y2="1450.0" stroke="#333" stroke-width="3" />
<line x1="441.5" y1="1450.0" x2="462.5" y2="1450.0" stroke="#333" stroke-width="3" />
<line x1="668.2" y1="1467.9" x2="668.2" y2="1429.6" stroke="#333" stroke-width="3" />
<line x1="657.8" y1="1429.6" x2="678.8" y2="1429.6" stroke="#333" stroke-width="3" />
<line x1="883.9" y1="1507.0" x2="883.9" y2="1489.8" stroke="#333" stroke-width="3" />
<line x1="873.4" y1="1489.8" x2="894.4" y2="1489.8" stroke="#333" stroke-width="3" />
<line x1="235.0" y1="1229.5" x2="235.0" y2="1858.2" stroke="#000" stroke-width="4" />
<line x1="233.5" y1="1856.7" x2="1104.0" y2="1856.7" stroke="#000" stroke-width="5.6" />
<defs>
<pattern id="hA2" patternUnits="userSpaceOnUse" width="42.5" height="42.5" x="37.40" y="0"><rect width="42.5" height="42.5" fill="#fff"/><line x1="-42.5" y1="85.0" x2="85.0" y2="-42.5" stroke="#000" stroke-width="6.0"/><line x1="-42.5" y1="42.5" x2="42.5" y2="-42.5" stroke="#000" stroke-width="6.0"/><line x1="0" y1="85.0" x2="85.0" y2="0" stroke="#000" stroke-width="6.0"/></pattern>
<pattern id="hB2" patternUnits="userSpaceOnUse" width="42.5" height="42.5" x="24.60" y="0"><rect width="42.5" height="42.5" fill="#fff"/><line x1="-42.5" y1="-42.5" x2="85.0" y2="85.0" stroke="#000" stroke-width="4.3"/><line x1="0" y1="-42.5" x2="85.0" y2="42.5" stroke="#000" stroke-width="4.3"/><line x1="-42.5" y1="0" x2="42.5" y2="85.0" stroke="#000" stroke-width="4.3"/></pattern>
</defs>
<text transform="translate(1202.9,1157.0) scale(1,1.04)" font-size="62.5" font-weight="bold" text-anchor="start" fill="#000" font-family="'Liberation Sans', Arial, sans-serif" >(D)</text>
<text transform="translate(1555.6,1191.2) scale(1.3,1.08)" x="0" y="0" font-size="53.8" font-family="'Liberation Serif', 'Times New Roman', serif" stroke="#000" stroke-width="0.6">α</text>
<text transform="translate(1592.1,1191.2) scale(1,1.04)" font-size="53.8" font-weight="bold" text-anchor="start" fill="#000" font-family="'Liberation Sans', Arial, sans-serif" >-KG+ADP+CAT</text>
<g transform="translate(1159.5,1951.2) rotate(-90) scale(1,1.04)">
<text x="0" y="0" font-size="47" font-weight="bold" font-family="'Liberation Sans', Arial, sans-serif">H<tspan font-size="35.2" dy="15">2</tspan><tspan dy="-15">O</tspan><tspan font-size="35.2" dy="15">2</tspan><tspan dy="-15"> production (pmol/min/mg prot)</tspan></text>
</g>
<line x1="1313.0" y1="1860.0" x2="1323.0" y2="1860.0" stroke="#000" stroke-width="2.5" />
<text transform="translate(1264.5,1873.8) scale(1,1.04)" font-size="46.5" font-weight="bold" text-anchor="start" fill="#000" font-family="'Liberation Sans', Arial, sans-serif" >0</text>
<line x1="1313.0" y1="1735.1" x2="1323.0" y2="1735.1" stroke="#000" stroke-width="2.5" />
<text transform="translate(1238.7,1748.9) scale(1,1.04)" font-size="46.5" font-weight="bold" text-anchor="start" fill="#000" font-family="'Liberation Sans', Arial, sans-serif" >20</text>
<line x1="1313.0" y1="1610.1" x2="1323.0" y2="1610.1" stroke="#000" stroke-width="2.5" />
<text transform="translate(1238.7,1624.0) scale(1,1.04)" font-size="46.5" font-weight="bold" text-anchor="start" fill="#000" font-family="'Liberation Sans', Arial, sans-serif" >40</text>
<line x1="1313.0" y1="1485.2" x2="1323.0" y2="1485.2" stroke="#000" stroke-width="2.5" />
<text transform="translate(1238.7,1499.0) scale(1,1.04)" font-size="46.5" font-weight="bold" text-anchor="start" fill="#000" font-family="'Liberation Sans', Arial, sans-serif" >60</text>
<line x1="1313.0" y1="1360.2" x2="1323.0" y2="1360.2" stroke="#000" stroke-width="2.5" />
<text transform="translate(1238.7,1374.1) scale(1,1.04)" font-size="46.5" font-weight="bold" text-anchor="start" fill="#000" font-family="'Liberation Sans', Arial, sans-serif" >80</text>
<line x1="1313.0" y1="1235.3" x2="1323.0" y2="1235.3" stroke="#000" stroke-width="2.5" />
<text transform="translate(1212.8,1249.1) scale(1,1.04)" font-size="46.5" font-weight="bold" text-anchor="start" fill="#000" font-family="'Liberation Sans', Arial, sans-serif" >100</text>
<rect x="1430.5" y="1347.0" width="217.3" height="513.0" fill="#fff" stroke="#000" stroke-width="5.0"/>
<rect x="1647.8" y="1389.4" width="215.5" height="470.6" fill="url(#hA2)" stroke="#000" stroke-width="5.0"/>
<rect x="1863.3" y="1443.3" width="215.7" height="416.7" fill="url(#hB2)" stroke="#000" stroke-width="5.0"/>
<line x1="1539.2" y1="1347.0" x2="1539.2" y2="1328.4" stroke="#333" stroke-width="3" />
<line x1="1528.7" y1="1328.4" x2="1549.7" y2="1328.4" stroke="#333" stroke-width="3" />
<line x1="1755.5" y1="1389.4" x2="1755.5" y2="1356.0" stroke="#333" stroke-width="3" />
<line x1="1745.0" y1="1356.0" x2="1766.0" y2="1356.0" stroke="#333" stroke-width="3" />
<line x1="1971.2" y1="1443.3" x2="1971.2" y2="1427.7" stroke="#333" stroke-width="3" />
<line x1="1960.7" y1="1427.7" x2="1981.7" y2="1427.7" stroke="#333" stroke-width="3" />
<line x1="1323.0" y1="1233.8" x2="1323.0" y2="1861.5" stroke="#000" stroke-width="4" />
<line x1="1321.5" y1="1860.0" x2="2168.0" y2="1860.0" stroke="#000" stroke-width="5.6" />
<polyline points="1537.6,1303.6 1537.6,1274.6 2013.3,1274.6 2013.3,1305.2" fill="none" stroke="#606060" stroke-width="2.4" stroke-linejoin="miter"/>
<text transform="translate(1769.4,1270.4) scale(1,1.04)" font-size="44" font-weight="bold" text-anchor="start" fill="#000" font-family="'Liberation Sans', Arial, sans-serif" >*</text>
<defs>
<pattern id="hA3" patternUnits="userSpaceOnUse" width="42.5" height="42.5" x="15.60" y="0"><rect width="42.5" height="42.5" fill="#fff"/><line x1="-42.5" y1="85.0" x2="85.0" y2="-42.5" stroke="#000" stroke-width="6.0"/><line x1="-42.5" y1="42.5" x2="42.5" y2="-42.5" stroke="#000" stroke-width="6.0"/><line x1="0" y1="85.0" x2="85.0" y2="0" stroke="#000" stroke-width="6.0"/></pattern>
<pattern id="hB3" patternUnits="userSpaceOnUse" width="42.5" height="42.5" x="19.50" y="0"><rect width="42.5" height="42.5" fill="#fff"/><line x1="-42.5" y1="-42.5" x2="85.0" y2="85.0" stroke="#000" stroke-width="4.3"/><line x1="0" y1="-42.5" x2="85.0" y2="42.5" stroke="#000" stroke-width="4.3"/><line x1="-42.5" y1="0" x2="42.5" y2="85.0" stroke="#000" stroke-width="4.3"/></pattern>
</defs>
<text transform="translate(120.5,2020.5) scale(1,1.04)" font-size="62.5" font-weight="bold" text-anchor="start" fill="#000" font-family="'Liberation Sans', Arial, sans-serif" >(E)</text>
<text transform="translate(331.6,2080.0) scale(1.3,1.08)" x="0" y="0" font-size="53.8" font-family="'Liberation Serif', 'Times New Roman', serif" stroke="#000" stroke-width="0.6">α</text>
<text transform="translate(368.7,2080.0) scale(1,1.04)" font-size="53.8" font-weight="bold" text-anchor="start" fill="#000" font-family="'Liberation Sans', Arial, sans-serif" >-KG+ADP+CAT+Rot</text>
<g transform="translate(89.3,2827.9) rotate(-90) scale(1,1.04)">
<text x="0" y="0" font-size="47" font-weight="bold" font-family="'Liberation Sans', Arial, sans-serif">H<tspan font-size="35.2" dy="15">2</tspan><tspan dy="-15">O</tspan><tspan font-size="35.2" dy="15">2</tspan><tspan dy="-15"> production (pmol/min/mg prot)</tspan></text>
</g>
<line x1="216.6" y1="2735.5" x2="226.6" y2="2735.5" stroke="#000" stroke-width="2.5" />
<text transform="translate(166.6,2748.9) scale(1,1.04)" font-size="46.5" font-weight="bold" text-anchor="start" fill="#000" font-family="'Liberation Sans', Arial, sans-serif" >0</text>
<line x1="216.6" y1="2631.5" x2="226.6" y2="2631.5" stroke="#000" stroke-width="2.5" />
<text transform="translate(114.9,2644.9) scale(1,1.04)" font-size="46.5" font-weight="bold" text-anchor="start" fill="#000" font-family="'Liberation Sans', Arial, sans-serif" >100</text>
<line x1="216.6" y1="2527.5" x2="226.6" y2="2527.5" stroke="#000" stroke-width="2.5" />
<text transform="translate(114.9,2540.9) scale(1,1.04)" font-size="46.5" font-weight="bold" text-anchor="start" fill="#000" font-family="'Liberation Sans', Arial, sans-serif" >200</text>
<line x1="216.6" y1="2423.5" x2="226.6" y2="2423.5" stroke="#000" stroke-width="2.5" />
<text transform="translate(114.9,2436.9) scale(1,1.04)" font-size="46.5" font-weight="bold" text-anchor="start" fill="#000" font-family="'Liberation Sans', Arial, sans-serif" >300</text>
<line x1="216.6" y1="2319.5" x2="226.6" y2="2319.5" stroke="#000" stroke-width="2.5" />
<text transform="translate(114.9,2332.9) scale(1,1.04)" font-size="46.5" font-weight="bold" text-anchor="start" fill="#000" font-family="'Liberation Sans', Arial, sans-serif" >400</text>
<line x1="216.6" y1="2215.5" x2="226.6" y2="2215.5" stroke="#000" stroke-width="2.5" />
<text transform="translate(114.9,2228.9) scale(1,1.04)" font-size="46.5" font-weight="bold" text-anchor="start" fill="#000" font-family="'Liberation Sans', Arial, sans-serif" >500</text>
<line x1="216.6" y1="2111.5" x2="226.6" y2="2111.5" stroke="#000" stroke-width="2.5" />
<text transform="translate(114.9,2124.9) scale(1,1.04)" font-size="46.5" font-weight="bold" text-anchor="start" fill="#000" font-family="'Liberation Sans', Arial, sans-serif" >600</text>
<rect x="334.6" y="2372.0" width="217.3" height="363.5" fill="#fff" stroke="#000" stroke-width="5.0"/>
<rect x="551.9" y="2419.6" width="215.0" height="315.9" fill="url(#hA3)" stroke="#000" stroke-width="5.0"/>
<rect x="766.9" y="2558.4" width="214.9" height="177.1" fill="url(#hB3)" stroke="#000" stroke-width="5.0"/>
<line x1="443.2" y1="2372.0" x2="443.2" y2="2355.8" stroke="#333" stroke-width="3" />
<line x1="432.8" y1="2355.8" x2="453.8" y2="2355.8" stroke="#333" stroke-width="3" />
<line x1="659.4" y1="2419.6" x2="659.4" y2="2403.7" stroke="#333" stroke-width="3" />
<line x1="648.9" y1="2403.7" x2="669.9" y2="2403.7" stroke="#333" stroke-width="3" />
<line x1="874.3" y1="2558.4" x2="874.3" y2="2550.2" stroke="#333" stroke-width="3" />
<line x1="863.8" y1="2550.2" x2="884.8" y2="2550.2" stroke="#333" stroke-width="3" />
<line x1="226.6" y1="2110.0" x2="226.6" y2="2737.0" stroke="#000" stroke-width="4" />
<line x1="225.1" y1="2736.3" x2="1095.3" y2="2736.3" stroke="#000" stroke-width="5.6" />
<polyline points="434.6,2301.3 434.6,2271.0 908.2,2271.0 908.2,2301.3" fill="none" stroke="#606060" stroke-width="2.4" stroke-linejoin="miter"/>
<text transform="translate(652.8,2272.2) scale(1,1.04)" font-size="44" font-weight="bold" text-anchor="start" fill="#000" font-family="'Liberation Sans', Arial, sans-serif" >*</text>
<polyline points="435.2,2346.9 435.2,2319.6 653.8,2319.6 653.8,2350.0" fill="none" stroke="#606060" stroke-width="2.4" stroke-linejoin="miter"/>
<text transform="translate(538.3,2325.4) scale(1,1.04)" font-size="44" font-weight="bold" text-anchor="start" fill="#000" font-family="'Liberation Sans', Arial, sans-serif" >*</text>
<polyline points="662.9,2395.5 662.9,2368.1 903.3,2368.1 903.3,2397.6" fill="none" stroke="#606060" stroke-width="2.4" stroke-linejoin="miter"/>
<text transform="translate(775.7,2370.9) scale(1,1.04)" font-size="44" font-weight="bold" text-anchor="start" fill="#000" font-family="'Liberation Sans', Arial, sans-serif" >*</text>
<defs>
<pattern id="hA4" patternUnits="userSpaceOnUse" width="42.5" height="42.5" x="27.50" y="0"><rect width="42.5" height="42.5" fill="#fff"/><line x1="-42.5" y1="85.0" x2="85.0" y2="-42.5" stroke="#000" stroke-width="6.0"/><line x1="-42.5" y1="42.5" x2="42.5" y2="-42.5" stroke="#000" stroke-width="6.0"/><line x1="0" y1="85.0" x2="85.0" y2="0" stroke="#000" stroke-width="6.0"/></pattern>
<pattern id="hB4" patternUnits="userSpaceOnUse" width="42.5" height="42.5" x="38.70" y="0"><rect width="42.5" height="42.5" fill="#fff"/><line x1="-42.5" y1="-42.5" x2="85.0" y2="85.0" stroke="#000" stroke-width="4.3"/><line x1="0" y1="-42.5" x2="85.0" y2="42.5" stroke="#000" stroke-width="4.3"/><line x1="-42.5" y1="0" x2="42.5" y2="85.0" stroke="#000" stroke-width="4.3"/></pattern>
</defs>
<text transform="translate(1201.6,2020.0) scale(1,1.04)" font-size="62.5" font-weight="bold" text-anchor="start" fill="#000" font-family="'Liberation Sans', Arial, sans-serif" >(F)</text>
<text transform="translate(1372.4,2071.0) scale(1.3,1.08)" x="0" y="0" font-size="53.8" font-family="'Liberation Serif', 'Times New Roman', serif" stroke="#000" stroke-width="0.6">α</text>
<text transform="translate(1407.7,2071.0) scale(1,1.04)" font-size="53.8" font-weight="bold" text-anchor="start" fill="#000" font-family="'Liberation Sans', Arial, sans-serif" >-KG+ADP+CAT+Rot+Anti</text>
<g transform="translate(1142.0,2823.1) rotate(-90) scale(1,1.04)">
<text x="0" y="0" font-size="47" font-weight="bold" font-family="'Liberation Sans', Arial, sans-serif">H<tspan font-size="35.2" dy="15">2</tspan><tspan dy="-15">O</tspan><tspan font-size="35.2" dy="15">2</tspan><tspan dy="-15"> production (pmol/min/mg prot)</tspan></text>
</g>
<line x1="1281.2" y1="2730.6" x2="1291.2" y2="2730.6" stroke="#000" stroke-width="2.5" />
<text transform="translate(1232.5,2745.7) scale(1,1.04)" font-size="46.5" font-weight="bold" text-anchor="start" fill="#000" font-family="'Liberation Sans', Arial, sans-serif" >0</text>
<line x1="1281.2" y1="2626.5" x2="1291.2" y2="2626.5" stroke="#000" stroke-width="2.5" />
<text transform="translate(1180.8,2641.6) scale(1,1.04)" font-size="46.5" font-weight="bold" text-anchor="start" fill="#000" font-family="'Liberation Sans', Arial, sans-serif" >100</text>
<line x1="1281.2" y1="2522.4" x2="1291.2" y2="2522.4" stroke="#000" stroke-width="2.5" />
<text transform="translate(1180.8,2537.5) scale(1,1.04)" font-size="46.5" font-weight="bold" text-anchor="start" fill="#000" font-family="'Liberation Sans', Arial, sans-serif" >200</text>
<line x1="1281.2" y1="2418.3" x2="1291.2" y2="2418.3" stroke="#000" stroke-width="2.5" />
<text transform="translate(1180.8,2433.4) scale(1,1.04)" font-size="46.5" font-weight="bold" text-anchor="start" fill="#000" font-family="'Liberation Sans', Arial, sans-serif" >300</text>
<line x1="1281.2" y1="2314.2" x2="1291.2" y2="2314.2" stroke="#000" stroke-width="2.5" />
<text transform="translate(1180.8,2329.3) scale(1,1.04)" font-size="46.5" font-weight="bold" text-anchor="start" fill="#000" font-family="'Liberation Sans', Arial, sans-serif" >400</text>
<line x1="1281.2" y1="2210.1" x2="1291.2" y2="2210.1" stroke="#000" stroke-width="2.5" />
<text transform="translate(1180.8,2225.2) scale(1,1.04)" font-size="46.5" font-weight="bold" text-anchor="start" fill="#000" font-family="'Liberation Sans', Arial, sans-serif" >500</text>
<line x1="1281.2" y1="2106.0" x2="1291.2" y2="2106.0" stroke="#000" stroke-width="2.5" />
<text transform="translate(1180.8,2121.1) scale(1,1.04)" font-size="46.5" font-weight="bold" text-anchor="start" fill="#000" font-family="'Liberation Sans', Arial, sans-serif" >600</text>
<rect x="1400.3" y="2296.0" width="216.1" height="434.6" fill="#fff" stroke="#000" stroke-width="5.0"/>
<rect x="1616.4" y="2347.2" width="215.8" height="383.4" fill="url(#hA4)" stroke="#000" stroke-width="5.0"/>
<rect x="1832.2" y="2511.0" width="216.8" height="219.6" fill="url(#hB4)" stroke="#000" stroke-width="5.0"/>
<line x1="1508.3" y1="2296.0" x2="1508.3" y2="2275.0" stroke="#333" stroke-width="3" />
<line x1="1497.8" y1="2275.0" x2="1518.8" y2="2275.0" stroke="#333" stroke-width="3" />
<line x1="1724.3" y1="2347.2" x2="1724.3" y2="2320.7" stroke="#333" stroke-width="3" />
<line x1="1713.8" y1="2320.7" x2="1734.8" y2="2320.7" stroke="#333" stroke-width="3" />
<line x1="1940.6" y1="2511.0" x2="1940.6" y2="2501.4" stroke="#333" stroke-width="3" />
<line x1="1930.1" y1="2501.4" x2="1951.1" y2="2501.4" stroke="#333" stroke-width="3" />
<line x1="1291.2" y1="2104.5" x2="1291.2" y2="2732.1" stroke="#000" stroke-width="4" />
<line x1="1289.7" y1="2731.0" x2="2157.5" y2="2731.0" stroke="#000" stroke-width="3.2" />
<polyline points="1509.7,2246.8 1509.7,2218.0 1983.3,2218.0 1983.3,2246.8" fill="none" stroke="#606060" stroke-width="2.4" stroke-linejoin="miter"/>
<text transform="translate(1724.3,2225.3) scale(1,1.04)" font-size="44" font-weight="bold" text-anchor="start" fill="#000" font-family="'Liberation Sans', Arial, sans-serif" >*</text>
<polyline points="1738.3,2307.5 1738.3,2280.2 1953.0,2280.2 1953.0,2309.0" fill="none" stroke="#606060" stroke-width="2.4" stroke-linejoin="miter"/>
<text transform="translate(1839.0,2283.0) scale(1,1.04)" font-size="44" font-weight="bold" text-anchor="start" fill="#000" font-family="'Liberation Sans', Arial, sans-serif" >*</text>
</svg>
</body></html>
